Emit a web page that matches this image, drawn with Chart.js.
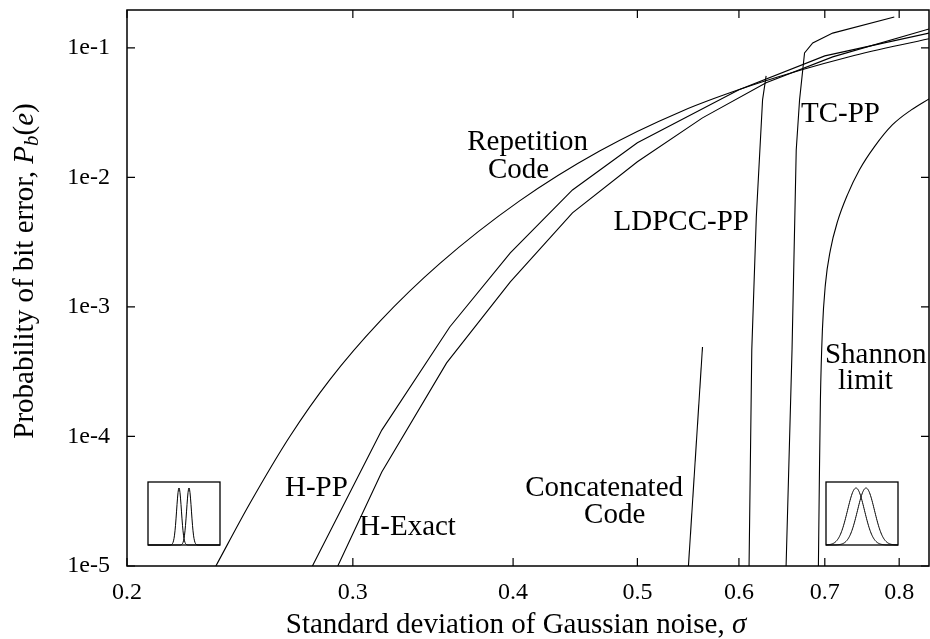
<!DOCTYPE html>
<html>
<head>
<meta charset="utf-8">
<script src="https://cdn.jsdelivr.net/npm/chart.js@4.4.1/dist/chart.umd.min.js"></script>
<style>
  html, body { margin: 0; padding: 0; background: #fff; }
  #wrap { width: 930px; height: 639px; position: relative; }
</style>
</head>
<body>
<div id="wrap"><canvas id="plot"></canvas></div>
<script>
// axis ticks
const xTicks = [0.2, 0.3, 0.4, 0.5, 0.6, 0.7, 0.8];
const yTicks = [1e-5, 1e-4, 1e-3, 1e-2, 1e-1];
const yTickLabels = ['1e-5', '1e-4', '1e-3', '1e-2', '1e-1'];

// curves (sigma, Pb)
const repSigma = [0.2346, 0.2494, 0.2679, 0.2879, 0.3149, 0.3506, 0.4047, 0.4672, 0.5393, 0.6225, 0.7316, 0.844];
const repPb    = [1e-5, 3.05e-5, 1.00e-4, 2.75e-4, 7.74e-4, 2.16e-3, 6.59e-3, 1.60e-2, 3.19e-2, 5.37e-2, 8.54e-2, 0.1176];

const hppSigma = [0.279, 0.316, 0.357, 0.398, 0.445, 0.500, 0.600, 0.700, 0.844];
const hppPb    = [1e-5, 1.12e-4, 7.0e-4, 2.61e-3, 8.0e-3, 1.85e-2, 4.74e-2, 8.67e-2, 0.130];

const hexSigma = [0.292, 0.316, 0.355, 0.398, 0.445, 0.500, 0.562, 0.630, 0.710, 0.844];
const hexPb    = [1e-5, 5.32e-5, 3.7e-4, 1.56e-3, 5.32e-3, 1.32e-2, 2.88e-2, 5.37e-2, 8.52e-2, 0.140];

const ldpcSigma = [0.611, 0.614, 0.619, 0.626, 0.630];
const ldpcPb    = [1e-5, 4.66e-4, 4.95e-3, 3.97e-2, 6.08e-2];

const tcSigma = [0.653, 0.660, 0.665, 0.669, 0.675, 0.685, 0.710, 0.793];
const tcPb    = [1e-5, 4.66e-4, 1.63e-2, 3.97e-2, 9.15e-2, 0.109, 0.130, 0.173];

const concSigma = [0.548, 0.562];
const concPb    = [1e-5, 4.91e-4];

const shanSigma = [0.692, 0.6932, 0.6945, 0.697, 0.7007, 0.7071, 0.716, 0.729, 0.7448, 0.7651, 0.7902, 0.8176, 0.844];
const shanPb    = [1e-5, 4.61e-5, 1.91e-4, 6.65e-4, 1.48e-3, 2.76e-3, 4.53e-3, 7.33e-3, 1.14e-2, 1.72e-2, 2.54e-2, 3.32e-2, 4.04e-2];

// curve labels: text, sigma, Pb (centre of text)
const noteText  = ['Repetition', 'Code', 'LDPCC-PP', 'TC-PP', 'Shannon', 'limit', 'Concatenated', 'Code', 'H-PP', 'H-Exact'];
const noteSigma = [0.4106, 0.404, 0.541, 0.720, 0.767, 0.753, 0.471, 0.480, 0.281, 0.331];
const notePb    = [1.85e-2, 1.14e-2, 4.53e-3, 3.04e-2, 4.26e-4, 2.64e-4, 4.0e-5, 2.48e-5, 4.0e-5, 1.97e-5];

const serif = "'Liberation Serif', 'Times New Roman', serif";

function pts(xs, ys) {
  return xs.map((x, i) => ({ x: x, y: ys[i] }));
}

function curve(label, xs, ys, smooth) {
  return {
    label: label,
    data: pts(xs, ys),
    borderColor: '#000',
    borderWidth: 1.1,
    pointRadius: 0,
    cubicInterpolationMode: smooth ? 'monotone' : 'default',
    tension: smooth ? 0.4 : 0,
    fill: false
  };
}

// draw runs of text (mixed fonts) centred on 0
function drawRuns(ctx, runs) {
  let total = 0;
  runs.forEach(r => { ctx.font = r.f; total += ctx.measureText(r.t).width; });
  let cx = -total / 2;
  runs.forEach(r => {
    ctx.font = r.f;
    ctx.fillText(r.t, cx, r.dy || 0);
    cx += ctx.measureText(r.t).width;
  });
}

function inset(ctx, bx, by, w, h, centres, sd) {
  ctx.lineWidth = 1.3;
  ctx.strokeRect(bx, by, w, h);
  ctx.lineWidth = 1;
  centres.forEach(c => {
    ctx.beginPath();
    for (let px = 0; px <= w; px += 0.5) {
      const g = Math.exp(-0.5 * Math.pow((px - c) / sd, 2));
      const py = by + h - g * (h - 6);
      if (px === 0) ctx.moveTo(bx + px, py); else ctx.lineTo(bx + px, py);
    }
    ctx.stroke();
  });
}

const decor = {
  id: 'decor',
  afterDraw(chart) {
    const { ctx, chartArea: a, scales: { x, y } } = chart;
    ctx.save();
    ctx.strokeStyle = '#000';
    ctx.fillStyle = '#000';

    // frame
    ctx.lineWidth = 1.5;
    ctx.strokeRect(a.left, a.top, a.right - a.left, a.bottom - a.top);

    // inward tick marks on all four sides
    ctx.lineWidth = 1.2;
    ctx.beginPath();
    xTicks.forEach(v => {
      const p = x.getPixelForValue(v);
      ctx.moveTo(p, a.bottom); ctx.lineTo(p, a.bottom - 8);
      ctx.moveTo(p, a.top); ctx.lineTo(p, a.top + 8);
    });
    yTicks.forEach(v => {
      const p = y.getPixelForValue(v);
      ctx.moveTo(a.left, p); ctx.lineTo(a.left + 8, p);
      ctx.moveTo(a.right, p); ctx.lineTo(a.right - 8, p);
    });
    ctx.stroke();

    // curve labels
    ctx.font = '29px ' + serif;
    ctx.textAlign = 'center';
    ctx.textBaseline = 'middle';
    noteText.forEach((t, i) => {
      ctx.fillText(t, x.getPixelForValue(noteSigma[i]), y.getPixelForValue(notePb[i]));
    });

    // noise pictograms
    inset(ctx, a.left + 21, a.bottom - 84, 72, 63, [31, 41], 2.4);
    inset(ctx, a.right - 103, a.bottom - 84, 72, 63, [30, 40], 8.5);

    // axis titles
    ctx.textAlign = 'left';
    ctx.textBaseline = 'alphabetic';
    ctx.save();
    ctx.translate(516, 633);
    drawRuns(ctx, [
      { t: 'Standard deviation of Gaussian noise, ', f: '29px ' + serif },
      { t: '\u03c3', f: 'italic 29px ' + serif }
    ]);
    ctx.restore();

    ctx.save();
    ctx.translate(33, 271);
    ctx.rotate(-Math.PI / 2);
    drawRuns(ctx, [
      { t: 'Probability of bit error, ', f: '29px ' + serif },
      { t: 'P', f: 'italic 29px ' + serif },
      { t: 'b', f: 'italic 21px ' + serif, dy: 5 },
      { t: '(', f: '29px ' + serif },
      { t: 'e', f: 'italic 29px ' + serif },
      { t: ')', f: '29px ' + serif }
    ]);
    ctx.restore();

    ctx.restore();
  }
};

new Chart(document.getElementById('plot'), {
  type: 'line',
  data: {
    datasets: [
      curve('Repetition Code', repSigma, repPb, true),
      curve('H-PP', hppSigma, hppPb, false),
      curve('H-Exact', hexSigma, hexPb, false),
      curve('LDPCC-PP', ldpcSigma, ldpcPb, false),
      curve('TC-PP', tcSigma, tcPb, false),
      curve('Concatenated Code', concSigma, concPb, false),
      curve('Shannon limit', shanSigma, shanPb, true)
    ]
  },
  options: {
    responsive: true,
    maintainAspectRatio: false,
    animation: false,
    layout: { padding: { left: 0, top: 10, right: 1, bottom: 0 } },
    plugins: { legend: { display: false }, tooltip: { enabled: false } },
    scales: {
      x: {
        type: 'logarithmic',
        min: 0.2,
        max: 0.844,
        grid: { display: false, drawTicks: false },
        border: { display: false },
        afterBuildTicks: s => { s.ticks = xTicks.map(v => ({ value: v })); },
        afterFit: s => { s.height = 73; s.paddingLeft = 0; s.paddingRight = 0; },
        ticks: {
          padding: 12,
          maxRotation: 0,
          autoSkip: false,
          color: '#000',
          font: { family: serif, size: 24 },
          callback: v => String(v)
        }
      },
      y: {
        type: 'logarithmic',
        min: 1e-5,
        max: 0.196,
        grid: { display: false, drawTicks: false },
        border: { display: false },
        afterBuildTicks: s => { s.ticks = yTicks.map(v => ({ value: v })); },
        afterFit: s => { s.width = 127; s.paddingTop = 0; s.paddingBottom = 0; },
        ticks: {
          padding: 17,
          autoSkip: false,
          color: '#000',
          font: { family: serif, size: 24 },
          callback: (v, i) => yTickLabels[i]
        }
      }
    }
  },
  plugins: [decor]
});
</script>
</body>
</html>
